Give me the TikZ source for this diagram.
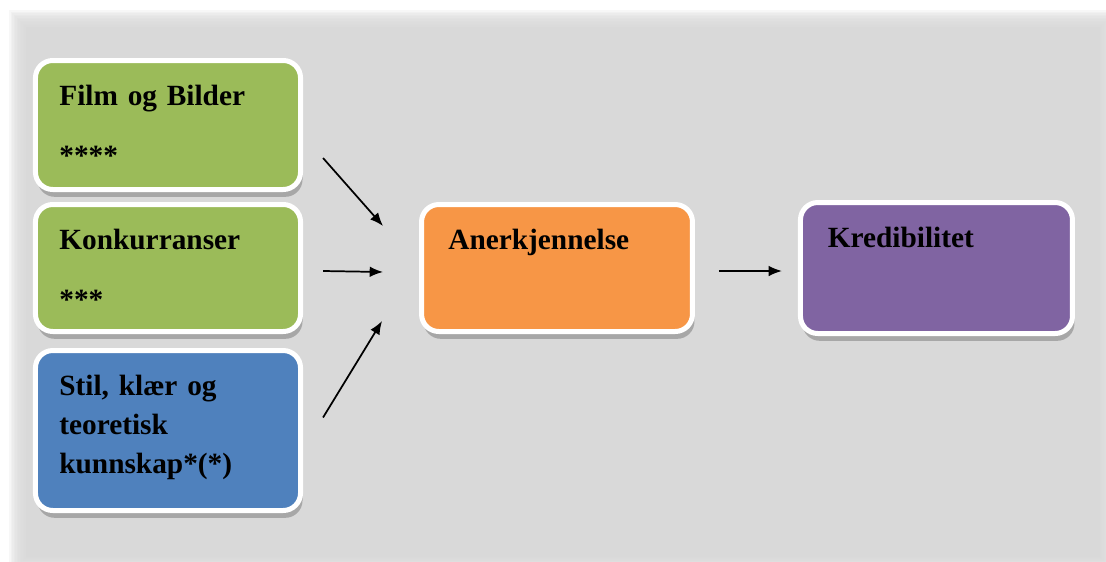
\documentclass[tikz,border=0pt]{standalone}
\usepackage{fontspec}
\setmainfont{Liberation Serif}
\usetikzlibrary{
  arrows.meta,
  positioning,
  calc,
  shadows
}
\definecolor{krpanel}{HTML}{D9D9D9}
\definecolor{krgreen}{HTML}{9BBB59}
\definecolor{krblue}{HTML}{4F81BD}
\definecolor{krorange}{HTML}{F79646}
\definecolor{krpurple}{HTML}{8064A2}

\begin{document}
\begin{tikzpicture}[x=0.75pt,y=-0.75pt,
      box/.style={
        rectangle, rounded corners=13pt,
        draw=white, line width=3.75pt,
        text width=163pt, align=left,
        inner xsep=17.9pt, inner ysep=0pt, text height=33.5pt,
        font=\fontsize{22}{29.25}\selectfont\bfseries,
        drop shadow={shadow xshift=1.5pt, shadow yshift=-5.5pt,
          opacity=0.35, fill=black!70}
      },
      arrow/.style={-{Latex[length=10pt,width=8pt]}, line width=1.3pt, black}
    ]
      \useasboundingbox[fill=white] (0,0) rectangle (1106,561);
      % panel with soft edge
      \foreach \k in {1,...,12}
        \fill[krpanel, opacity=0.2] (27-1.5*\k,28-1.5*\k) rectangle (1099+1.5*\k,556+1.5*\k);
      \fill[krpanel] (26,27) rectangle (1100,557);

      \node[box, fill=krgreen, text depth=63.25pt] (film) at (168,125) {Film og Bilder\\[16pt]****};
      \node[box, fill=krgreen, text depth=61.75pt, below=7.5pt of film] (konk) {Konkurranser\\[16pt]***};
      \node[box, fill=krblue, text depth=86.5pt, below=10.5pt of konk] (stil) {Stil, klær og\\teoretisk\\kunnskap*(*)};
      \node[box, fill=krorange, inner xsep=20.1pt, text depth=61.75pt, right=87pt of konk] (aner) {Anerkjennelse};
      \node[box, fill=krpurple, inner xsep=20.5pt, text depth=64.75pt, right=77.25pt of aner] (kred) {Kredibilitet};

      % free arrow ends
      \coordinate (a1s) at ($(film.east)+(20,33)$);
      \coordinate (a1e) at ($(aner.west)+(-36,-42)$);
      \coordinate (a2s) at ($(konk.east)+(20,3)$);
      \coordinate (a2e) at ($(aner.west)+(-36,4)$);
      \coordinate (a3s) at ($(stil.east)+(20,-13)$);
      \coordinate (a3e) at ($(aner.west)+(-37,53)$);
      \coordinate (a4s) at ($(aner.east)+(24,3)$);
      \coordinate (a4e) at ($(kred.west)+(-16,3)$);

      \draw[arrow] (a1s) -- (a1e);
      \draw[arrow] (a2s) -- (a2e);
      \draw[arrow] (a3s) -- (a3e);
      \draw[arrow] (a4s) -- (a4e);
    \end{tikzpicture}
\end{document}
